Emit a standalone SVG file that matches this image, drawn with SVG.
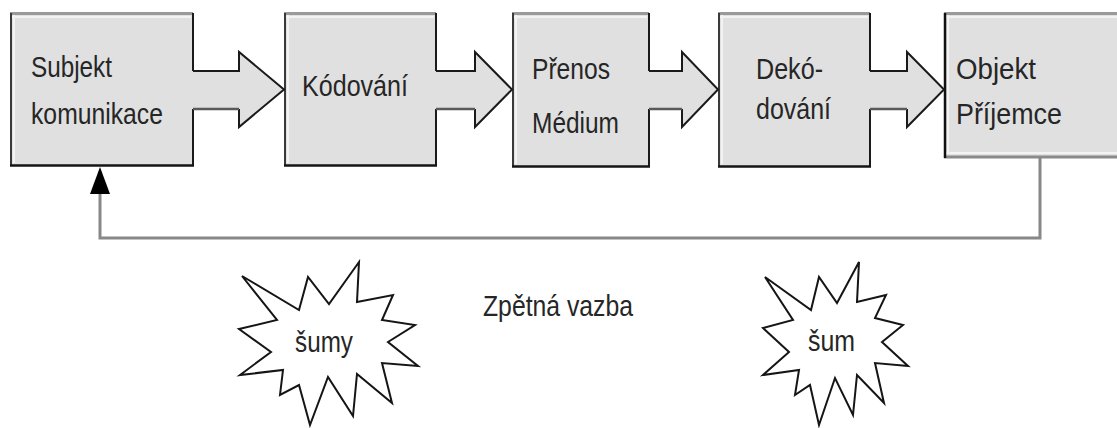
<svg xmlns="http://www.w3.org/2000/svg" width="1117" height="428" viewBox="0 0 1117 428">
  <defs>
    <style>
      .fill { fill: #e0e0e0; }
      .top { stroke: #9a9a9a; stroke-width: 3; fill: none; }
      .hl { stroke: #f3f3f3; stroke-width: 2; fill: none; }
      .lft { stroke: #3a3a3a; stroke-width: 2; fill: none; }
      .rgt { stroke: #1a1a1a; stroke-width: 2; fill: none; }
      .btm { stroke: #151515; stroke-width: 2.5; fill: none; }
      .lbl { font-family: "Liberation Sans", Arial, sans-serif; font-size: 30px; fill: #262626; }
      .arrow-fill { fill: #e0e0e0; stroke: none; }
      .arrow-edge { fill: none; stroke: #1a1a1a; stroke-width: 2; stroke-linejoin: miter; }
      .arrow-low { fill: none; stroke: #5a5a5a; stroke-width: 2.5; }
      .feedback { fill: none; stroke: #888888; stroke-width: 3; }
      .star { fill: #ffffff; stroke: #151515; stroke-width: 2; stroke-linejoin: miter; }
    </style>
    <marker id="arrowhead" viewBox="0 0 27 20" refX="0" refY="10" markerWidth="27" markerHeight="20" markerUnits="userSpaceOnUse" orient="auto">
      <path d="M0,0 L27,10 L0,20 Z" fill="#000000"/>
    </marker>
  </defs>

  <rect width="1117" height="428" fill="#ffffff"/>

  <!-- Sender -->
  <g id="subjekt">
    <rect class="fill" x="10" y="13" width="183" height="153"/>
    <line class="hl" x1="12" y1="17" x2="191" y2="17"/>
    <line class="hl" x1="14" y1="15" x2="14" y2="163"/>
    <line class="top" x1="10" y1="13.5" x2="193" y2="13.5"/>
    <line class="lft" x1="11" y1="13" x2="11" y2="166"/>
    <line class="rgt" x1="193" y1="13" x2="193" y2="166"/>
    <line class="btm" x1="10" y1="165.5" x2="194" y2="165.5"/>
    <text class="lbl" x="31" y="77" textLength="81" lengthAdjust="spacingAndGlyphs">Subjekt</text>
    <text class="lbl" x="31" y="124" textLength="132" lengthAdjust="spacingAndGlyphs">komunikace</text>
  </g>

  <!-- Encoding -->
  <g id="kodovani">
    <rect class="fill" x="284" y="13" width="152" height="153"/>
    <line class="hl" x1="286" y1="17" x2="434" y2="17"/>
    <line class="hl" x1="288" y1="15" x2="288" y2="163"/>
    <line class="top" x1="284" y1="13.5" x2="436" y2="13.5"/>
    <line class="lft" x1="285" y1="13" x2="285" y2="166"/>
    <line class="rgt" x1="436" y1="13" x2="436" y2="166"/>
    <line class="btm" x1="284" y1="165.5" x2="437" y2="165.5"/>
    <text class="lbl" x="302" y="96" textLength="106" lengthAdjust="spacingAndGlyphs">Kódování</text>
  </g>

  <!-- Transmission medium -->
  <g id="prenos">
    <rect class="fill" x="512" y="13" width="137" height="154"/>
    <line class="hl" x1="514" y1="17" x2="647" y2="17"/>
    <line class="hl" x1="516" y1="15" x2="516" y2="164"/>
    <line class="top" x1="512" y1="13.5" x2="649" y2="13.5"/>
    <line class="lft" x1="513" y1="13" x2="513" y2="167"/>
    <line class="rgt" x1="649" y1="13" x2="649" y2="167"/>
    <line class="btm" x1="512" y1="166.5" x2="650" y2="166.5"/>
    <text class="lbl" x="532" y="79" textLength="78" lengthAdjust="spacingAndGlyphs">Přenos</text>
    <text class="lbl" x="532" y="133" textLength="87" lengthAdjust="spacingAndGlyphs">Médium</text>
  </g>

  <!-- Decoding -->
  <g id="dekodovani">
    <rect class="fill" x="718" y="13" width="152" height="154"/>
    <line class="hl" x1="720" y1="17" x2="868" y2="17"/>
    <line class="hl" x1="722" y1="15" x2="722" y2="164"/>
    <line class="top" x1="718" y1="13.5" x2="870" y2="13.5"/>
    <line class="lft" x1="719" y1="13" x2="719" y2="167"/>
    <line class="rgt" x1="870" y1="13" x2="870" y2="167"/>
    <line class="btm" x1="718" y1="166.5" x2="871" y2="166.5"/>
    <text class="lbl" x="756" y="79" textLength="67" lengthAdjust="spacingAndGlyphs">Dekó-</text>
    <text class="lbl" x="756" y="119" textLength="75" lengthAdjust="spacingAndGlyphs">dování</text>
  </g>

  <!-- Receiver -->
  <g id="objekt">
    <rect class="fill" x="944" y="13" width="180" height="145"/>
    <line class="hl" x1="946" y1="17" x2="1117" y2="17"/>
    <line class="hl" x1="948" y1="15" x2="948" y2="153"/>
    <line class="hl" x1="946" y1="153" x2="1117" y2="153"/>
    <line class="top" x1="944" y1="13.5" x2="1117" y2="13.5"/>
    <line x1="944" y1="157" x2="1117" y2="157" stroke="#8a8a8a" stroke-width="3"/>
    <line x1="945" y1="13" x2="945" y2="158" stroke="#111111" stroke-width="2.5"/>
    <text class="lbl" x="956" y="79" textLength="80" lengthAdjust="spacingAndGlyphs">Objekt</text>
    <text class="lbl" x="956" y="124" textLength="106" lengthAdjust="spacingAndGlyphs">Příjemce</text>
  </g>

  <!-- Noise bursts -->
  <g id="sumy">
    <polygon class="star" points="359,262 357,302 393,295 382,320 415,325 388,342 418,366 382,363 392,403 357,374 353,416 328,377 310,425 299,385 280,395 283,370 240,375 271,352 239,329 277,320 242,276 299,310 308,277 329,304"/>
    <text class="lbl" x="295" y="352" textLength="58" lengthAdjust="spacingAndGlyphs">šumy</text>
  </g>

  <g id="sum">
    <polygon class="star" points="859,262 857,302 886,295 875,318 903,325 882,342 908,366 875,363 884,403 857,375 853,415 835,378 819,425 810,385 795,395 799,370 763,375 789,352 763,328 793,320 765,277 811,310 819,277 837,303"/>
    <text class="lbl" x="808" y="351" textLength="47" lengthAdjust="spacingAndGlyphs">šum</text>
  </g>

  <g id="zpetna-vazba">
    <text class="lbl" x="483" y="316" textLength="150" lengthAdjust="spacingAndGlyphs">Zpětná vazba</text>
  </g>

  <!-- Connectors: block arrows between stages and the feedback loop -->
  <g id="connectors">
    <g id="arrow-1">
      <path class="arrow-fill" d="M192,71 H239 V52 L284,89.5 L239,127 V109 H192 Z"/>
      <path class="arrow-edge" d="M193,71 H239 V52 L284,89.5 L239,127 V109"/>
      <line class="arrow-low" x1="193" y1="109" x2="239" y2="109"/>
    </g>
    <g id="arrow-2">
      <path class="arrow-fill" d="M435,71 H475 V52 L512,89.5 L475,127 V109 H435 Z"/>
      <path class="arrow-edge" d="M436,71 H475 V52 L512,89.5 L475,127 V109"/>
      <line class="arrow-low" x1="436" y1="109" x2="475" y2="109"/>
    </g>
    <g id="arrow-3">
      <path class="arrow-fill" d="M648,71 H682 V52 L718,89.5 L682,127 V109 H648 Z"/>
      <path class="arrow-edge" d="M649,71 H682 V52 L718,89.5 L682,127 V109"/>
      <line class="arrow-low" x1="649" y1="109" x2="682" y2="109"/>
    </g>
    <g id="arrow-4">
      <path class="arrow-fill" d="M869,71 H907 V52 L944,89.5 L907,127 V109 H869 Z"/>
      <path class="arrow-edge" d="M870,71 H907 V52 L944,89.5 L907,127 V109"/>
      <line class="arrow-low" x1="870" y1="109" x2="907" y2="109"/>
    </g>
    <polyline id="feedback" class="feedback" points="1040,158 1040,238 100,238 100,194" marker-end="url(#arrowhead)"/>
  </g>
</svg>
